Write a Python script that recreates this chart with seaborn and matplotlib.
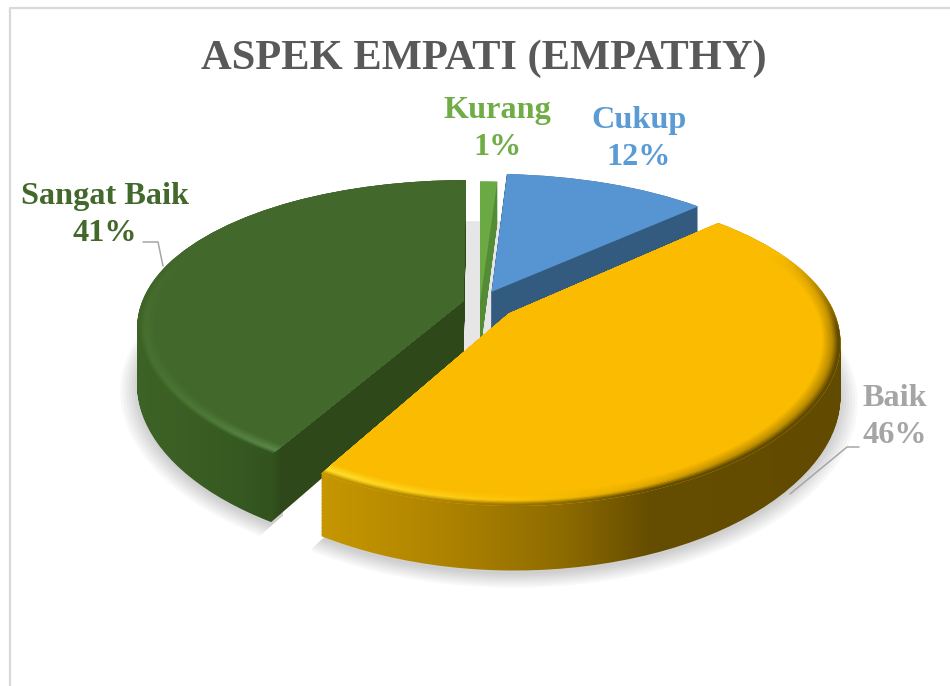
import numpy as np
import matplotlib
matplotlib.use('Agg')
import matplotlib.pyplot as plt
import seaborn as sns
from matplotlib.patches import PathPatch
from matplotlib.path import Path
from matplotlib.transforms import IdentityTransform, Transform

# Chart values
categories = ['Kurang', 'Cukup', 'Baik', 'Sangat Baik']
percents = [1, 12, 45.4, 41.6]
percent_labels = ['1%', '12%', '46%', '41%']
explode = [0.0, 0.085, 0.113, 0.053]
title = 'ASPEK EMPATI (EMPATHY)'

top_colors = ['#6aa943', '#5795d2', '#fabb00', '#43682b']
label_colors = ['#70ad47', '#5b9bd5', '#a5a5a5', '#43682b']

W, H = 950, 686
CX, CY, AX_X, AX_Y, TILT_X, TILT_Y = 480, 303, 322, 147, 0.17, 0.21
depths = [50, 50, 50, 55]


class Perspective(Transform):
    # maps the unit pie plane to pixels, tilted away from the viewer
    input_dims = 2
    output_dims = 2

    def __init__(self, drop=0.0):
        super().__init__()
        self.drop = drop

    def transform_non_affine(self, values):
        values = np.asarray(values, dtype=float)
        sx = 1 / (1 + TILT_X * values[:, 1])
        sy = 1 / (1 + TILT_Y * values[:, 1])
        x = CX + AX_X * values[:, 0] * sx
        y = CY - AX_Y * values[:, 1] * sy + self.drop * sy
        return np.column_stack([x, y])


sns.set_theme(style='white')
plt.rcParams['font.family'] = ['Liberation Serif', 'DejaVu Serif']

fig = plt.figure(figsize=(W / 100, H / 100), dpi=100, facecolor='white')
ax = fig.add_axes([0, 0, 1, 1])


def make_pie(radius=1.0, expl=explode, z=1):
    wedges, _ = ax.pie(percents, explode=expl, radius=radius, startangle=90,
                       counterclock=False, colors=top_colors, center=(0, 0),
                       wedgeprops={'linewidth': 0, 'zorder': z})
    return wedges


# geometry first, the pie call resets the limits
top_wedges = make_pie()
for i, w in enumerate(top_wedges):
    w.set_zorder([20, 20, 40, 30][i])

rim_steps = np.linspace(1.0, 0.948, 12)[1:]
rim_wedges = {r: make_pie(radius=r) for r in rim_steps}
for wedges in rim_wedges.values():
    for w in wedges:
        w.set_visible(False)
shadow_radii = np.linspace(1.0, 1.05, 7)
shadow_exploded = {r: make_pie(radius=r) for r in shadow_radii}
shadow_disc = make_pie(radius=0.985, expl=[0, 0, 0, 0])

ax.set_xlim(0, W)
ax.set_ylim(H, 0)
ax.set_aspect('auto')
ax.set_axis_off()
ax.set_position([0, 0, 1, 1])


def px_path(wedge, drop=0.0):
    return (Perspective(drop) + ax.transData).transform_path(wedge.get_path())


def swept_path(wedge, drop_end, start=0.0, steps=45):
    paths = [px_path(wedge, d) for d in np.linspace(start, drop_end, steps)]
    return Path.make_compound_path(*paths)


def box_path(x0, x1, y0, y1):
    return Path([(x0, y0), (x1, y0), (x1, y1), (x0, y1), (x0, y0)], closed=True)


xs = np.arange(W)
ys = np.arange(H)


def ramp(stops):
    px = [s[0] for s in stops]
    rgb = np.array([matplotlib.colors.to_rgb(s[1]) for s in stops])
    return np.column_stack([np.interp(xs, px, rgb[:, k]) for k in range(3)])


def paint(path, rgb, z):
    if rgb.ndim == 2:
        rgb = rgb[None, :, :]
    im = ax.imshow(rgb, extent=(0, W, 0, H), origin='upper', aspect='auto',
                   interpolation='nearest', transform=IdentityTransform(), zorder=z)
    im.set_clip_path(path, IdentityTransform())


# soft floor shadow, kept away from the gap between the two big slices
shadow_clips = {2: box_path(312, W, 0, H), 3: box_path(0, 283, 0, H)}
for r, wedges in shadow_exploded.items():
    for i, w in enumerate(wedges):
        w.set_visible(False)
        if i >= 2:
            p = PathPatch(px_path(w, depths[i] + 3), transform=IdentityTransform(),
                          facecolor='black', edgecolor='none', alpha=0.028, zorder=2)
            ax.add_patch(p)
            p.set_clip_path(shadow_clips[i], ax.transData)

# grey floor seen through the gap under Kurang
floor = np.ones((H, W, 3))
floor[:360, 440:520] = matplotlib.colors.to_rgb('#e6e6e6')
paint(Path.make_compound_path(*[px_path(w, 46) for w in shadow_disc]), floor, 1)
for w in shadow_disc:
    w.set_visible(False)

side_stops = [
    [(0, '#548b35'), (W, '#548b35')],
    [(0, '#335b7f'), (W, '#335b7f')],
    [(321, '#c79700'), (450, '#ad8200'), (560, '#8f6c00'), (650, '#654d00'), (W, '#604a00')],
    [(135, '#3e6326'), (230, '#375a22'), (272, '#32521e'), (280, '#2e481a'), (W, '#2e481a')],
]
highlight_stops = {
    2: [(321, '#ffe22e'), (420, '#ffd21a'), (520, '#fcc308'), (620, '#e8ae00'), (720, '#c49200'), (W, '#a88000')],
    3: [(135, '#47702f'), (200, '#4d7a37'), (270, '#5c8a4c'), (W, '#5c8a4c')],
}
side_z = [19, 18, 39, 29]

for i, w in enumerate(top_wedges):
    paint(swept_path(w, depths[i]), ramp(side_stops[i]), side_z[i])
    w.set_transform(Perspective(0) + ax.transData)

# bevel along the front of the two large slices
strength = np.clip((ys - 255) / 75, 0, 1)[:, None, None]
for i in highlight_stops:
    side = ramp(side_stops[i])[None, :, :]
    high = ramp(highlight_stops[i])[None, :, :]
    top = np.array(matplotlib.colors.to_rgb(top_colors[i]))[None, None, :]
    base_z = top_wedges[i].get_zorder()
    for k, r in enumerate(rim_steps):
        t = k / (len(rim_steps) - 1)
        if t < 0.35:
            c = side + (high - side) * t / 0.35
        else:
            c = high + (top - high) * (t - 0.35) / 0.65
        # the first step keeps the outer edge, later steps sit inside it
        if k == 0:
            paint(px_path(top_wedges[i]), top + (c - top) * strength, base_z + 1)
        paint(px_path(rim_wedges[r][i]), top + (c - top) * strength, base_z + 1 + k * 0.01)

# text
ax.text(484, 59, title, ha='center', va='center', fontsize=30.6, fontweight='bold',
        color='#595959')
label_pos = [(497, 129), (639, 139), (895, 417), (105, 215)]
for name, pct, pos, col in zip(categories, percent_labels, label_pos, label_colors):
    ax.text(pos[0], pos[1], f'{name}\n{pct}', ha='center', va='center', fontsize=23.2,
            fontweight='bold', color=col, linespacing=1.33, zorder=60)

# leader lines and chart frame
ax.plot([143, 158, 163], [242, 242, 266], color='#a6a6a6', lw=1.1, zorder=60)
ax.plot([790, 847, 859], [494, 447, 447], color='#a6a6a6', lw=1.1, zorder=60)
ax.plot([10, 10, W], [H, 8, 8], color='#d9d9d9', lw=1.6, zorder=0)

ax.set_xlim(0, W)
ax.set_ylim(H, 0)
fig.savefig('out.png', dpi=100, facecolor='white')
plt.close()
